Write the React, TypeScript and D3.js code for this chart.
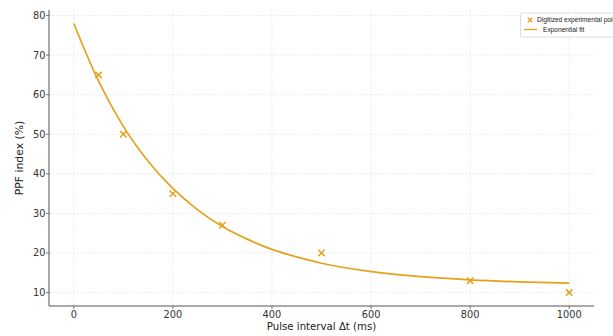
import * as d3 from "d3"

const pointX = [50, 100, 200, 300, 500, 800, 1000]
const pointY = [65, 50, 35, 27, 20, 13, 10]

// exponential fit curve
const fitX = [0, 50, 100, 150, 200, 250, 300, 350, 400, 450, 500, 600, 700, 800, 900, 1000]
const fitY = [78, 63.4, 52.0, 43.2, 36.3, 30.9, 26.7, 23.5, 20.9, 19.0, 17.4, 15.3, 14.0, 13.2, 12.7, 12.4]

const xTicks = [0, 200, 400, 600, 800, 1000]
const yTicks = [10, 20, 30, 40, 50, 60, 70, 80]

const seriesNames = ["Digitized experimental points", "Exponential fit"]

const W = 613
const H = 336
const margin = { top: 10, right: 19, bottom: 30, left: 49 }
const ORANGE = "#E5A11A"
const FONT = "DejaVu Sans, sans-serif"
const LEGEND_FONT = "Liberation Sans, Arial, sans-serif"

export default function App() {
  const x = d3.scaleLinear().domain([-50, 1050]).range([margin.left, W - margin.right])
  const y = d3.scaleLinear().domain([6.6, 81.4]).range([H - margin.bottom, margin.top])

  const line = d3.line<number>()
    .x((_, i) => x(fitX[i]))
    .y(d => y(d))
    .curve(d3.curveMonotoneX)

  const x0 = margin.left
  const x1 = W - margin.right
  const y0 = H - margin.bottom
  const y1 = margin.top
  const ms = 3.2 // half size of x marker

  return (
    <svg width={W} height={H} style={{ position: "absolute", left: 0, top: 0, background: "#fff" }} fontFamily={FONT}>
      {/* grid */}
      {xTicks.map(t => (
        <line key={"gx" + t} x1={x(t)} x2={x(t)} y1={y1} y2={y0} stroke="#e6e6e6" strokeWidth={0.8} strokeDasharray="2,1.5" />
      ))}
      {yTicks.map(t => (
        <line key={"gy" + t} x1={x0} x2={x1} y1={y(t)} y2={y(t)} stroke="#e6e6e6" strokeWidth={0.8} strokeDasharray="2,1.5" />
      ))}

      {/* fit line */}
      <path d={line(fitY) || ""} fill="none" stroke={ORANGE} strokeWidth={1.7} />

      {/* points */}
      {pointX.map((px, i) => (
        <g key={"p" + i} transform={`translate(${x(px)},${y(pointY[i])})`} stroke={ORANGE} strokeWidth={1.5}>
          <line x1={-ms} y1={-ms} x2={ms} y2={ms} />
          <line x1={-ms} y1={ms} x2={ms} y2={-ms} />
        </g>
      ))}

      {/* spines */}
      <line x1={x0} x2={x0} y1={y1} y2={y0} stroke="#555" strokeWidth={1} />
      <line x1={x0} x2={x1} y1={y0} y2={y0} stroke="#555" strokeWidth={1} />

      {/* x ticks */}
      {xTicks.map(t => (
        <g key={"xt" + t}>
          <line x1={x(t)} x2={x(t)} y1={y0} y2={y0 + 3} stroke="#555" strokeWidth={0.8} />
          <text x={x(t)} y={y0 + 11.5} textAnchor="middle" fontSize={9.8} fill="#333">{t}</text>
        </g>
      ))}
      {/* y ticks */}
      {yTicks.map(t => (
        <g key={"yt" + t}>
          <line x1={x0 - 3} x2={x0} y1={y(t)} y2={y(t)} stroke="#555" strokeWidth={0.8} />
          <text x={x0 - 3.5} y={y(t) + 3.5} textAnchor="end" fontSize={9.8} fill="#333">{t}</text>
        </g>
      ))}

      {/* axis labels */}
      <text x={(x0 + x1) / 2} y={H - 6} textAnchor="middle" fontSize={10.2} fill="#222">Pulse interval Δt (ms)</text>
      <text transform={`translate(22.5,${(y0 + y1) / 2}) rotate(-90)`} textAnchor="middle" fontSize={10.8} fill="#222">PPF index (%)</text>

      {/* legend */}
      <rect x={520.5} y={13} width={110} height={24} rx={2} fill="#fff" stroke="#d4d4d4" strokeWidth={0.8} />
      <g transform="translate(530,20)" stroke={ORANGE} strokeWidth={1.3}>
        <line x1={-2.2} y1={-2.2} x2={2.2} y2={2.2} />
        <line x1={-2.2} y1={2.2} x2={2.2} y2={-2.2} />
      </g>
      <text x={537} y={22.3} fontSize={6.6} fontFamily={LEGEND_FONT} fill="#222">{seriesNames[0]}</text>
      <line x1={524} x2={537} y1={29.5} y2={29.5} stroke={ORANGE} strokeWidth={1.3} />
      <text x={543} y={31.8} fontSize={6.6} fontFamily={LEGEND_FONT} fill="#222">{seriesNames[1]}</text>
    </svg>
  )
}
